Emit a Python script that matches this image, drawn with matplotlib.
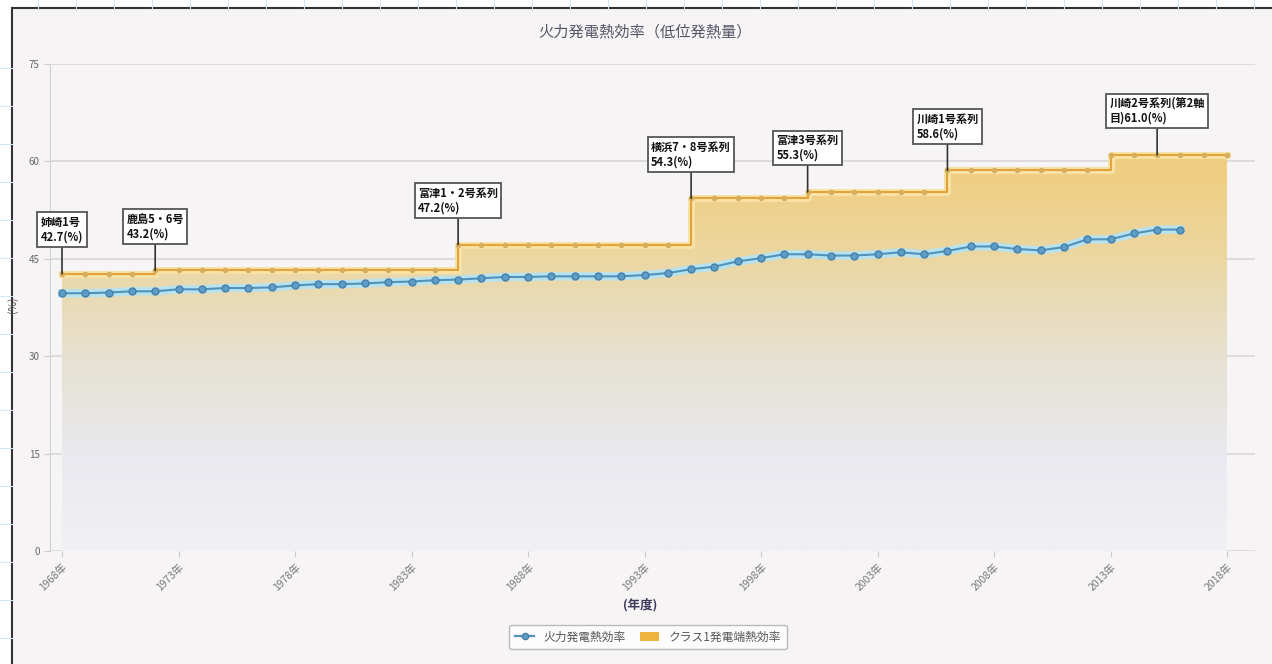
import numpy as np
import matplotlib
matplotlib.use("Agg")
from matplotlib import pyplot as plt
from matplotlib.colors import LinearSegmentedColormap
from matplotlib.lines import Line2D
from matplotlib.patches import Patch, Rectangle

plt.rcParams['font.family'] = ['Noto Sans CJK JP', 'DejaVu Sans']

# Data.
years = list(range(1968, 2019))
class_top = [42.7, 42.7, 42.7, 42.7,
             43.2, 43.2, 43.2, 43.2, 43.2, 43.2, 43.2, 43.2, 43.2, 43.2, 43.2, 43.2, 43.2,
             47.2, 47.2, 47.2, 47.2, 47.2, 47.2, 47.2, 47.2, 47.2, 47.2,
             54.3, 54.3, 54.3, 54.3, 54.3,
             55.3, 55.3, 55.3, 55.3, 55.3, 55.3,
             58.6, 58.6, 58.6, 58.6, 58.6, 58.6, 58.6,
             61.0, 61.0, 61.0, 61.0, 61.0, 61.0]
thermal = [39.7, 39.7, 39.8, 40.0, 40.0, 40.3, 40.3, 40.5, 40.5, 40.6,
           40.9, 41.1, 41.1, 41.2, 41.4, 41.5, 41.7, 41.8, 42.0, 42.2,
           42.2, 42.3, 42.3, 42.3, 42.3, 42.5, 42.8, 43.4, 43.8, 44.6,
           45.1, 45.7, 45.7, 45.5, 45.5, 45.7, 46.0, 45.7, 46.2, 46.9,
           46.9, 46.5, 46.3, 46.8, 48.0, 48.0, 48.9, 49.5, 49.5]
note_idx = [0, 4, 17, 27, 32, 38, 47]
note_text = ["姉崎1号\n42.7(%)", "鹿島5・6号\n43.2(%)", "富津1・2号系列\n47.2(%)",
             "横浜7・8号系列\n54.3(%)", "富津3号系列\n55.3(%)", "川崎1号系列\n58.6(%)",
             "川崎2号系列(第2軸\n目)61.0(%)"]
yticks = [0, 15, 30, 45, 60, 75]

bg = '#f7f4f5'
fig = plt.figure(figsize=(12.72, 6.64), dpi=100, facecolor='white')

# spreadsheet-like frame around the chart
for k in range(1, 35):
    fig.add_artist(Line2D([k * 38 / 1272] * 2, [1 - 8 / 664, 1], color='#cfe8f5', lw=0.8))
    fig.add_artist(Line2D([0, 12 / 1272], [1 - (30 + k * 38) / 664] * 2, color='#cfe8f5', lw=0.8))
fig.add_artist(Rectangle((12 / 1272, -0.01), 1.0, 1 - 8 / 664 + 0.01, facecolor=bg,
                         edgecolor='#333333', lw=1.5, transform=fig.transFigure, zorder=0))

ax = fig.add_axes([50 / 1272, 113 / 664, 1205 / 1272, 487 / 664])
ax.set_facecolor(bg)
ax.patch.set_alpha(0)

x = np.arange(len(years))
xb = np.arange(len(thermal))

# gradient area under the class-top step line
cmap = LinearSegmentedColormap.from_list(
    'area', [(0, '#f1f0f5'), (0.2, '#e9e9ef'), (0.4, '#e6e1d1'),
             (0.58, '#ebd8a6'), (0.75, '#efcf86'), (1, '#f1cb74')])
poly = ax.fill_between(x, class_top, 0, step='post', facecolor='none', edgecolor='none')
grad = np.linspace(0, 1, 256).reshape(-1, 1)
im = ax.imshow(grad, extent=[x[0], x[-1], 0, 75], origin='lower', aspect='auto',
               cmap=cmap, zorder=1)
im.set_clip_path(poly.get_paths()[0], transform=ax.transData)

# class-top step line
ax.plot(x, class_top, drawstyle='steps-post', color='#f8e2a4', lw=5, zorder=3)
ax.plot(x, class_top, drawstyle='steps-post', color='#e3a33c', lw=1.5, zorder=4)
ax.plot(x, class_top, ls='none', marker='o', ms=3, color='#d6ae5e', zorder=5)

# thermal efficiency line
ax.plot(xb, thermal, color='#b8e2ee', lw=6, zorder=3)
ax.plot(xb, thermal, color='#4f93bd', lw=1.5, marker='o', ms=5,
        mfc='#5b9ec9', mec='#4a7fa8', zorder=5)

for i, t in zip(note_idx, note_text):
    ax.annotate(t, xy=(x[i], class_top[i]), xytext=(0, 30), textcoords='offset pixels',
                ha='center', va='bottom', ma='left', fontsize=8, fontweight='bold',
                color='#111111', zorder=6,
                bbox=dict(boxstyle='square,pad=0.3', fc='white', ec='#555555', lw=1.3),
                arrowprops=dict(arrowstyle='-', color='#333333', lw=1.2,
                                shrinkA=0, shrinkB=0))

ax.set_xlim(-0.515, 51.2)
ax.set_ylim(0, 75)
ax.set_yticks(yticks)
ax.set_yticklabels([str(v) for v in yticks], fontsize=7, color='#666666')
ax.set_xticks(x[::5])
ax.set_xticklabels([f"{y}年" for y in years[::5]], rotation=45, ha='right',
                   rotation_mode='anchor', fontsize=7.5, color='#777777')
ax.tick_params(axis='both', length=4, color='#cccccc')
ax.grid(axis='y', color='#d8d6d8', lw=1.2)
ax.set_axisbelow(True)
for s in ['top', 'right', 'bottom']:
    ax.spines[s].set_visible(False)
ax.spines['left'].set_color('#d0d0d0')

fig.text(645 / 1272, 1 - 32 / 664, '火力発電熱効率（低位発熱量）', ha='center', va='center',
         fontsize=11, color='#555566')
fig.text(13 / 1272, 1 - 305 / 664, '(%)', rotation=90, ha='center', va='center',
         fontsize=7.5, color='#555555')
fig.text(640 / 1272, 1 - 605 / 664, '(年度)', ha='center', va='center',
         fontsize=9, fontweight='bold', color='#3a3a5a')

handles = [Line2D([], [], color='#4f93bd', lw=1.6, marker='o', ms=4.5,
                  mfc='#5b9ec9', mec='#4a7fa8'),
           Patch(facecolor='#f0b43c', edgecolor='none')]
fig.legend(handles, ['火力発電熱効率', 'クラス1発電端熱効率'], loc='center',
           bbox_to_anchor=(648 / 1272, 1 - 637 / 664), ncol=2, fontsize=8.5,
           frameon=True, fancybox=True, edgecolor='#aaaaaa', facecolor='white',
           labelcolor='#555555', handlelength=1.6, columnspacing=1.2, borderpad=0.5)

fig.savefig('out.png', dpi=100, facecolor=fig.get_facecolor())
